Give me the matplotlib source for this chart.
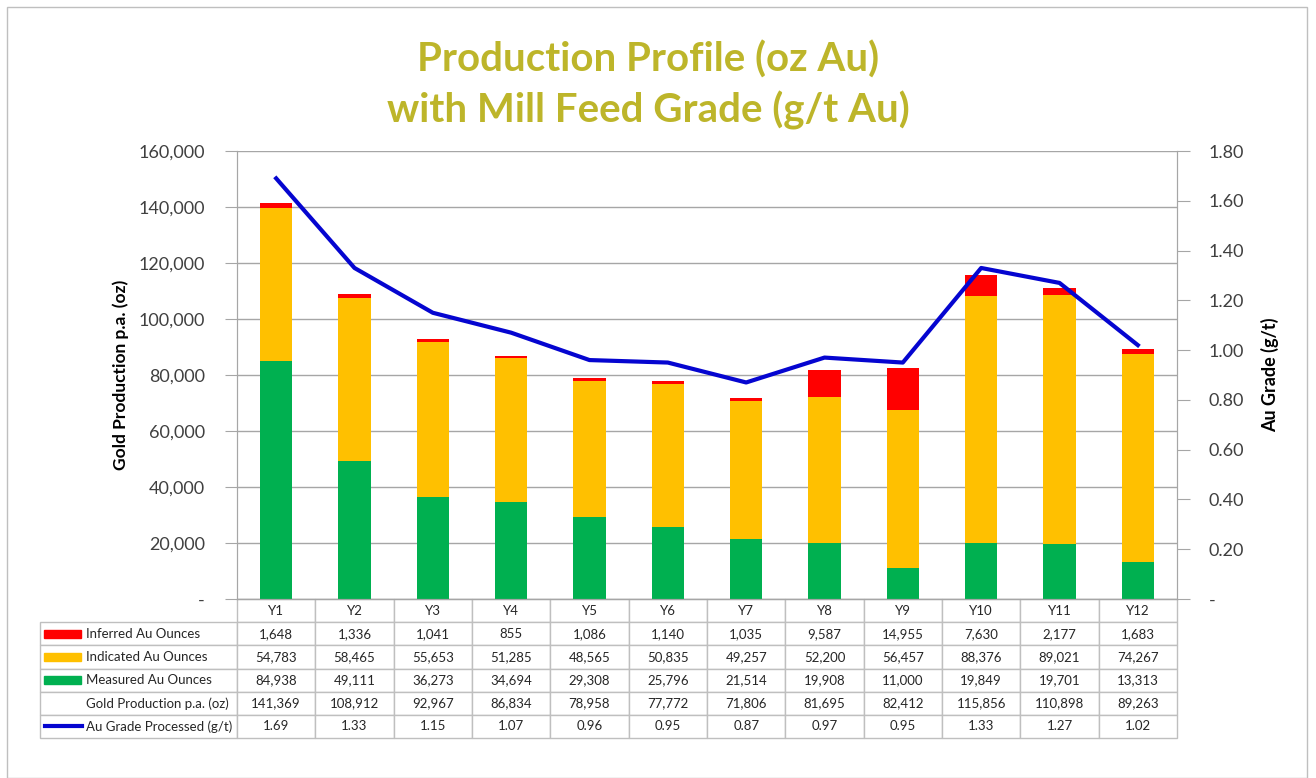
import numpy as np
import matplotlib.pyplot as plt
from matplotlib.patches import Rectangle
from matplotlib.lines import Line2D
from matplotlib.table import Table
from matplotlib.ticker import FuncFormatter

plt.rcParams['font.family'] = ['Lato', 'DejaVu Sans']

years = ['Y1', 'Y2', 'Y3', 'Y4', 'Y5', 'Y6', 'Y7', 'Y8', 'Y9', 'Y10', 'Y11', 'Y12']
inferred = [1648, 1336, 1041, 855, 1086, 1140, 1035, 9587, 14955, 7630, 2177, 1683]
indicated = [54783, 58465, 55653, 51285, 48565, 50835, 49257, 52200, 56457, 88376, 89021, 74267]
measured = [84938, 49111, 36273, 34694, 29308, 25796, 21514, 19908, 11000, 19849, 19701, 13313]
total = [141369, 108912, 92967, 86834, 78958, 77772, 71806, 81695, 82412, 115856, 110898, 89263]
grade = [1.69, 1.33, 1.15, 1.07, 0.96, 0.95, 0.87, 0.97, 0.95, 1.33, 1.27, 1.02]

RED = '#FF0000'
YELLOW = '#FFC000'
GREEN = '#00B050'
BLUE = '#0505D0'
GRID = '#A6A6A6'
TITLE = '#BDB52A'
TEXT = '#404040'

W, H = 1316, 778
fig = plt.figure(figsize=(W / 100, H / 100), dpi=100)
fig.patches.append(Rectangle((7 / W, 0), 1300 / W, 1 - 7 / H, transform=fig.transFigure,
                             fill=False, edgecolor='#BFBFBF', linewidth=1))

left, right, top, bottom = 237, 1177, 151, 599
ax = fig.add_axes([left / W, 1 - bottom / H, (right - left) / W, (bottom - top) / H])

x = np.arange(len(years))
bw = 0.41
ax.bar(x, measured, bw, color=GREEN, zorder=2)
ax.bar(x, indicated, bw, bottom=measured, color=YELLOW, zorder=2)
base = np.array(measured) + np.array(indicated)
ax.bar(x, inferred, bw, bottom=base, color=RED, zorder=2)

ax.set_xlim(-0.5, len(years) - 0.5)
ax.set_ylim(0, 160000)
ax.set_yticks(np.arange(0, 160001, 20000))
ax.yaxis.set_major_formatter(FuncFormatter(lambda v, p: '-' if v == 0 else f'{v:,.0f}'))
ax.grid(axis='y', color=GRID, linewidth=1, zorder=0)
ax.set_xticks(np.arange(-0.5, len(years), 1))
ax.set_xticklabels([])
ax.tick_params(axis='x', length=0)
ax.tick_params(axis='y', length=9, color=GRID, labelsize=13, labelcolor=TEXT, pad=14)
ax.spines['top'].set_visible(False)
for s in ['left', 'right', 'bottom']:
    ax.spines[s].set_color(GRID)
ax.set_ylabel('Gold Production p.a. (oz)', fontsize=12.5, fontweight='bold', color='black', labelpad=7)

ax2 = ax.twinx()
ax2.plot(x, grade, color=BLUE, linewidth=3, zorder=3)
ax2.set_ylim(0, 1.8)
ax2.set_yticks(np.arange(0, 1.81, 0.2))
ax2.yaxis.set_major_formatter(FuncFormatter(lambda v, p: '-' if abs(v) < 1e-9 else f'{v:.2f}'))
ax2.tick_params(axis='y', length=9, color=GRID, labelsize=13, labelcolor=TEXT, pad=14)
ax2.spines['top'].set_visible(False)
for s in ['left', 'right', 'bottom']:
    ax2.spines[s].set_color(GRID)
ax2.set_ylabel('Au Grade (g/t)', fontsize=13, fontweight='bold', color='black', labelpad=12)

fig.suptitle('Production Profile (oz Au)\nwith Mill Feed Grade (g/t Au)', x=648 / W,
             y=1 - 41 / H, fontsize=29, fontweight='bold', color=TITLE, linespacing=1.38)

# data table (units: axes fraction)
row_labels = ['Inferred Au Ounces', 'Indicated Au Ounces', 'Measured Au Ounces',
              'Gold Production p.a. (oz)', 'Au Grade Processed (g/t)']
cell_text = [[f'{v:,}' for v in inferred],
             [f'{v:,}' for v in indicated],
             [f'{v:,}' for v in measured],
             [f'{v:,}' for v in total],
             [f'{v:.2f}' for v in grade]]
axw = right - left
axh = bottom - top
tl, tb = 40, 738
colw = 1 / len(years)
labw = (left - tl) / axw
row_h = (tb - bottom) / 6 / axh
tab = Table(ax, bbox=[0, -6 * row_h, 1, 6 * row_h])
for j, yr in enumerate(years):
    tab.add_cell(0, j, colw, row_h, text=yr, loc='center')
for i, lab in enumerate(row_labels):
    cell = tab.add_cell(i + 1, -1, labw, row_h, text=lab, loc='left')
    cell.PAD = 0.235
    for j in range(len(years)):
        tab.add_cell(i + 1, j, colw, row_h, text=cell_text[i][j], loc='center')
tab.auto_set_font_size(False)
tab.set_fontsize(9.5)
for (r, c), cell in tab.get_celld().items():
    cell.set_edgecolor('#BFBFBF')
    cell.set_linewidth(1)
    cell.get_text().set_color('#262626')
ax.add_table(tab)

# legend keys in row labels
rh_px = (tb - bottom) / 6
swatches = [RED, YELLOW, GREEN]
for i, col in enumerate(swatches):
    yc = bottom + rh_px * (i + 1.5)
    ax.add_patch(Rectangle(((44 - left) / axw, (bottom - yc - 4) / axh), 37 / axw, 8 / axh,
                           transform=ax.transAxes, color=col, clip_on=False))
yc = bottom + rh_px * 5.5
ax.add_line(Line2D([(45 - left) / axw, (82 - left) / axw], [(bottom - yc) / axh] * 2,
                   transform=ax.transAxes, color=BLUE, linewidth=3, clip_on=False))

fig.savefig('out.png', dpi=100)
